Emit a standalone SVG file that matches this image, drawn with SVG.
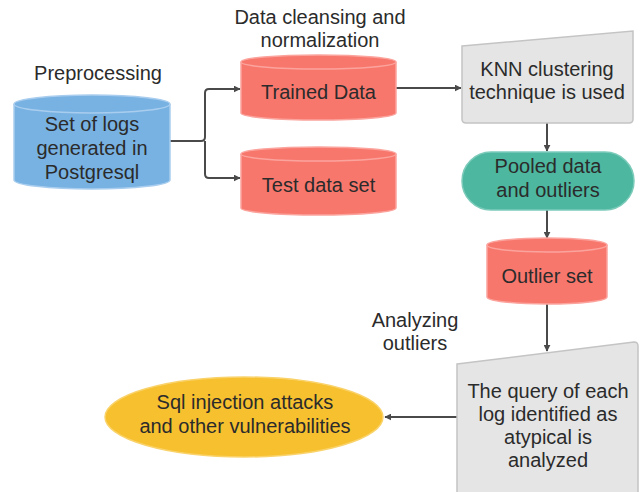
<svg xmlns="http://www.w3.org/2000/svg" width="640" height="492" viewBox="0 0 640 492">
  <style>
    text { font-family: "Liberation Sans", Arial, sans-serif; font-size: 20px; fill: #2b2b2b; text-anchor: middle; }
    .blue { fill: #78b2e2; stroke: #a9cdee; stroke-width: 1.5; }
    .salmon { fill: #f8776d; stroke: #fba49d; stroke-width: 1.5; }
    .grey { fill: #e5e5e5; stroke: #c4c4c4; stroke-width: 1.5; }
    .teal { fill: #4db7a0; stroke: #7ccbba; stroke-width: 1.5; }
    .yellow { fill: #f7c02f; stroke: #f9d26a; stroke-width: 1.5; }
    .rim { fill: none; stroke-width: 1.5; }
    .conn { fill: none; stroke: #4a4a4a; stroke-width: 2; }
  </style>
  <defs>
    <marker id="arrow" viewBox="0 0 10 10" refX="9" refY="5" markerWidth="7" markerHeight="7" markerUnits="userSpaceOnUse" orient="auto">
      <path d="M0,0 L10,5 L0,10 z" fill="#4a4a4a"/>
    </marker>
  </defs>
  <rect width="640" height="492" fill="#ffffff"/>

  <!-- free labels -->
  <g id="labels">
    <text x="98" y="80">Preprocessing</text>
    <text x="320" y="24">Data cleansing and</text>
    <text x="320" y="47">normalization</text>
    <text x="415" y="327">Analyzing</text>
    <text x="415" y="350">outliers</text>
  </g>

  <!-- connectors -->
  <g id="connectors">
    <path class="conn" d="M170,141 H201 Q205,141 205,137 V93 Q205,89 209,89 H240" marker-end="url(#arrow)"/>
    <path class="conn" d="M205,141 V174 Q205,178 209,178 H240" marker-end="url(#arrow)"/>
    <path class="conn" d="M396,88 H461" marker-end="url(#arrow)"/>
    <path class="conn" d="M547,123 V151" marker-end="url(#arrow)"/>
    <path class="conn" d="M547,210 V238" marker-end="url(#arrow)"/>
    <path class="conn" d="M547,303 V351" marker-end="url(#arrow)"/>
    <path class="conn" d="M457,417 H385" marker-end="url(#arrow)"/>
  </g>

  <!-- source logs -->
  <g id="logs">
    <path class="blue" d="M14,104 A78,9 0 0 1 170,104 V180 A78,9 0 0 1 14,180 Z"/>
    <path class="rim" stroke="#a9cdee" d="M14,104 A78,9 0 0 0 170,104"/>
    <text x="92" y="131">Set of logs</text>
    <text x="92" y="155">generated in</text>
    <text x="92" y="179">Postgresql</text>
  </g>

  <g id="trained">
    <path class="salmon" d="M241,62 A77.5,7 0 0 1 396,62 V113 A77.5,7 0 0 1 241,113 Z"/>
    <path class="rim" stroke="#fba49d" d="M241,62 A77.5,7 0 0 0 396,62"/>
    <text x="318.5" y="99">Trained Data</text>
  </g>

  <g id="test">
    <path class="salmon" d="M241,154 A77.5,7 0 0 1 396,154 V208 A77.5,7 0 0 1 241,208 Z"/>
    <path class="rim" stroke="#fba49d" d="M241,154 A77.5,7 0 0 0 396,154"/>
    <text x="318.5" y="192">Test data set</text>
  </g>

  <g id="knn">
    <path class="grey" d="M462,46 L633,31 V119 Q633,123 629,123 H466 Q462,123 462,119 Z"/>
    <text x="547" y="76">KNN clustering</text>
    <text x="547" y="99">technique is used</text>
  </g>

  <g id="pooled">
    <rect class="teal" x="462" y="152" width="172" height="58" rx="29" ry="29"/>
    <text x="548" y="173">Pooled data</text>
    <text x="548" y="197">and outliers</text>
  </g>

  <g id="outliers">
    <path class="salmon" d="M487,245 A60,7 0 0 1 607,245 V297 A60,7 0 0 1 487,297 Z"/>
    <path class="rim" stroke="#fba49d" d="M487,245 A60,7 0 0 0 607,245"/>
    <text x="547" y="283">Outlier set</text>
  </g>

  <g id="query">
    <path class="grey" d="M457,364 L634,342 Q638,342 638,346 V496 H457 Z"/>
    <text x="548" y="398">The query of each</text>
    <text x="548" y="421">log identified as</text>
    <text x="548" y="444">atypical is</text>
    <text x="548" y="467">analyzed</text>
  </g>

  <g id="vulnerabilities">
    <ellipse class="yellow" cx="244" cy="417" rx="139" ry="40"/>
    <text x="245" y="409">Sql injection attacks</text>
    <text x="245" y="433">and other vulnerabilities</text>
  </g>
</svg>
